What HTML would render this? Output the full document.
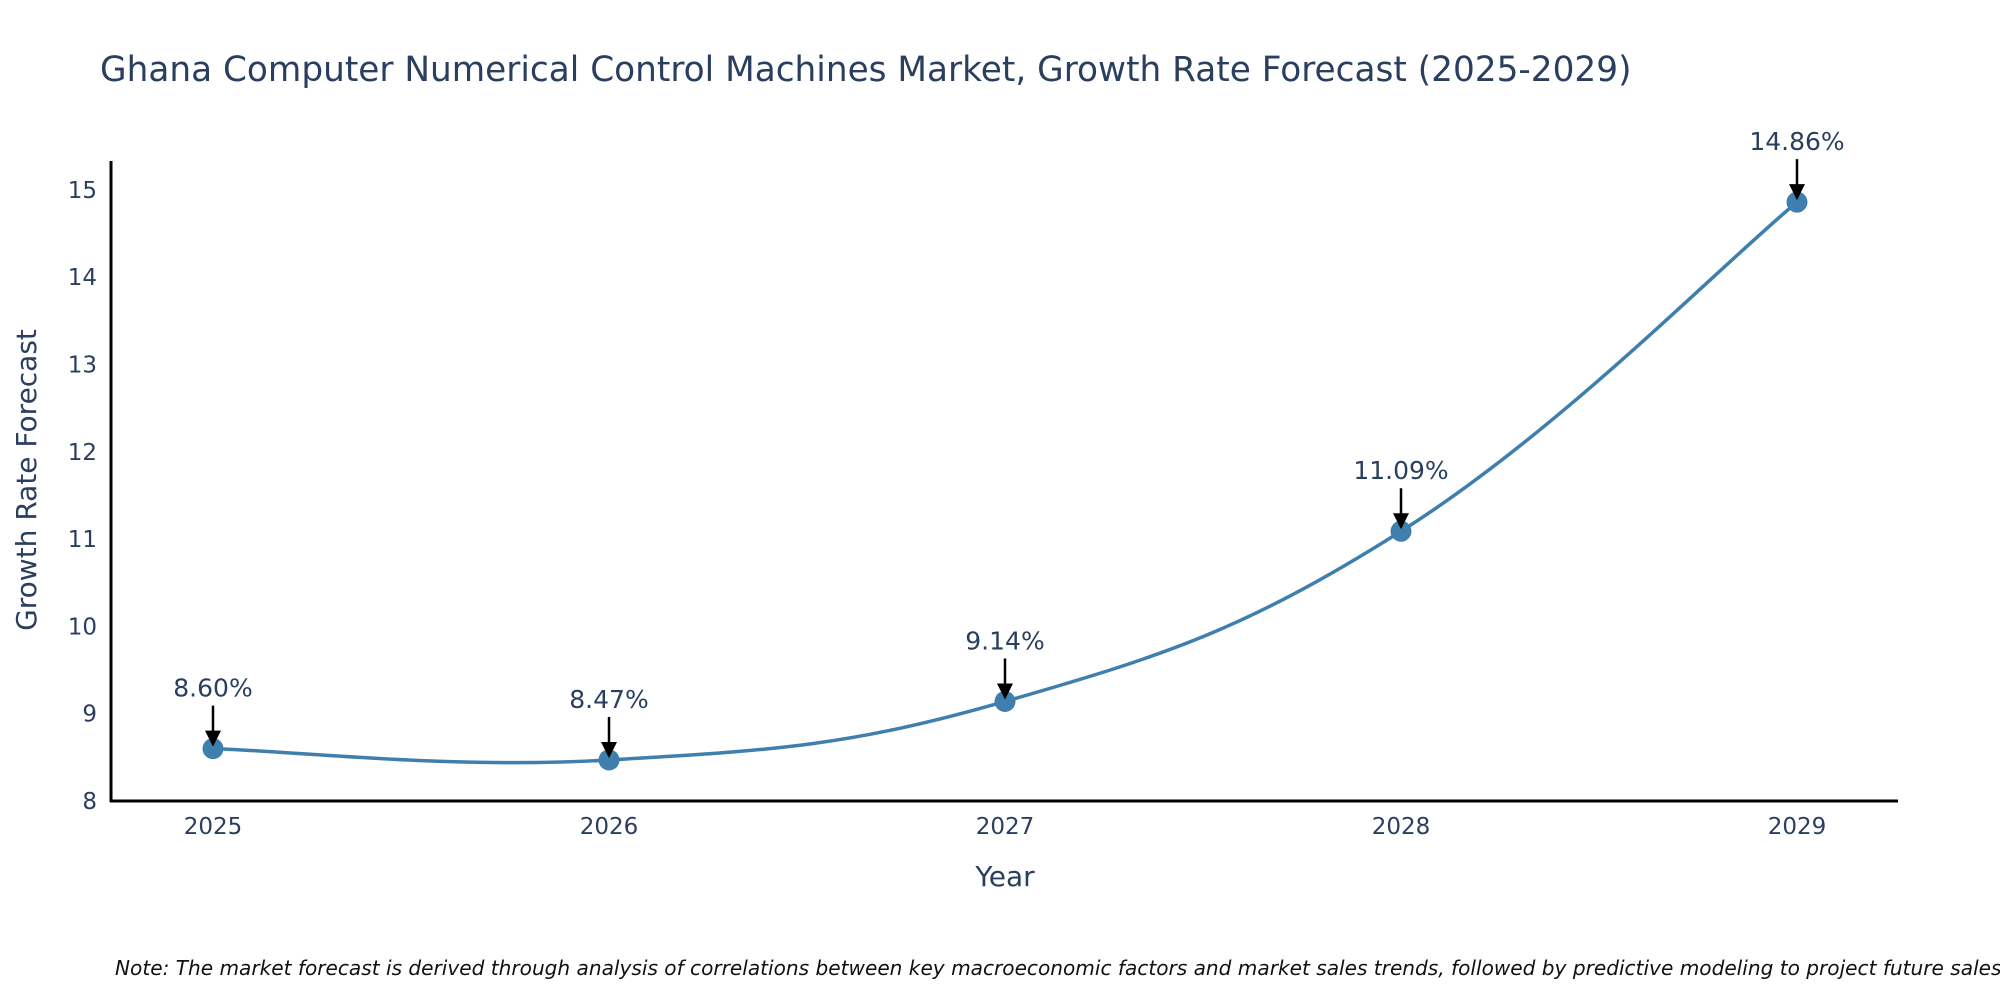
<!DOCTYPE html>
<html><head><meta charset="utf-8"><style>
html,body{margin:0;padding:0;background:#fff;overflow:hidden;}
svg{display:block;font-family:"DejaVu Sans","Liberation Sans",sans-serif;}
</style></head><body>
<svg id="chart" width="2000" height="1000" viewBox="0 0 2000 1000" xmlns="http://www.w3.org/2000/svg">
<defs><marker id="ah" markerWidth="16" markerHeight="16" refX="14" refY="8" orient="auto" markerUnits="userSpaceOnUse" viewBox="0 0 16 16"><path d="M0,0 L16,8 L0,16 z" fill="#000"/></marker></defs>
<text x="100" y="81" font-size="34.3" fill="#2a3f5f">Ghana Computer Numerical Control Machines Market, Growth Rate Forecast (2025-2029)</text>
<g id="plot"></g>
<text transform="translate(36,480) rotate(-90)" text-anchor="middle" font-size="28" fill="#2a3f5f">Growth Rate Forecast</text>
<text x="1005" y="886" text-anchor="middle" font-size="28" fill="#2a3f5f">Year</text>
<text x="115" y="975" font-size="20.1" font-style="italic" fill="#111">Note: The market forecast is derived through analysis of correlations between key macroeconomic factors and market sales trends, followed by predictive modeling to project future sales.</text>
</svg>
<script>
const years = ["2025","2026","2027","2028","2029"];
const values = [8.60, 8.47, 9.14, 11.09, 14.86];
const labels = ["8.60%","8.47%","9.14%","11.09%","14.86%"];
const yTicks = [8,9,10,11,12,13,14,15];

const NS = "http://www.w3.org/2000/svg";
const g = document.getElementById('plot');
const x = i => 213 + i * 396;
const y = v => 801 - (v - 8) * 87.3;
function mk(t, a) { const e = document.createElementNS(NS, t); for (const k in a) e.setAttribute(k, a[k]); g.appendChild(e); return e; }

yTicks.forEach(t => {
  const e = mk('text', {x: 97, y: y(t) + 8, 'text-anchor': 'end', 'font-size': 23, fill: '#2a3f5f'});
  
  
  e.textContent = t;
});
years.forEach((yr, i) => {
  const e = mk('text', {x: x(i), y: 834, 'text-anchor': 'middle', 'font-size': 23, fill: '#2a3f5f'});
  
  
  e.textContent = yr;
});
const ya = mk('line', {x1: 111, y1: 161, x2: 111, y2: 802, stroke: '#000', 'stroke-width': 3});


const xa = mk('line', {x1: 110, y1: 801, x2: 1898, y2: 801, stroke: '#000', 'stroke-width': 3});



const pts = values.map((v, i) => [x(i), y(v)]);
const k = 5;
let d = 'M' + pts[0][0] + ',' + pts[0][1];
for (let i = 0; i < pts.length - 1; i++) {
  const p0 = pts[Math.max(0, i - 1)], p1 = pts[i], p2 = pts[i + 1], p3 = pts[Math.min(pts.length - 1, i + 2)];
  const c1 = [p1[0] + (p2[0] - p0[0]) / k, p1[1] + (p2[1] - p0[1]) / k];
  const c2 = [p2[0] - (p3[0] - p1[0]) / k, p2[1] - (p3[1] - p1[1]) / k];
  d += ' C' + c1 + ' ' + c2 + ' ' + p2;
}
const line = mk('path', {d: d, fill: 'none', stroke: '#3f7fae', 'stroke-width': 3.5});



pts.forEach((p, i) => {
  const c = mk('circle', {cx: p[0], cy: p[1], r: 10.5, fill: '#3f7fae'});
  
  
  const a = mk('line', {x1: p[0], y1: p[1] - 43, x2: p[0], y2: p[1] - 4, stroke: '#000', 'stroke-width': 2.5, 'marker-end': 'url(#ah)'});
  
  
  const t = mk('text', {x: p[0], y: p[1] - 52, 'text-anchor': 'middle', 'font-size': 25, fill: '#2a3f5f'});
  
  
  t.textContent = labels[i];
});
</script>
</body></html>
